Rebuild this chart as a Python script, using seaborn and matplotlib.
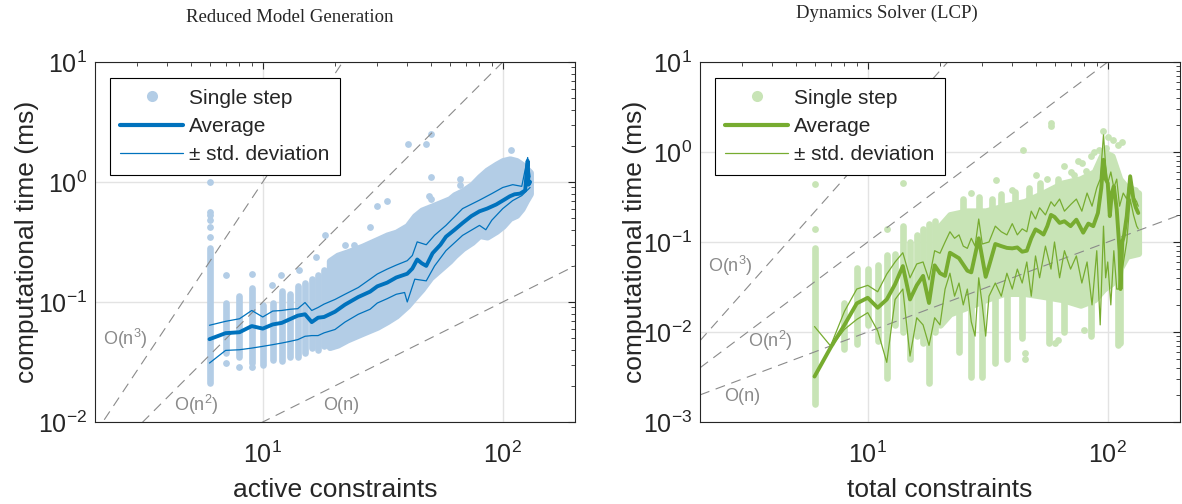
import matplotlib
matplotlib.use("Agg")
import matplotlib.pyplot as plt
from matplotlib.lines import Line2D
import seaborn as sns

# ---------------- left panel: Reduced Model Generation ----------------
l_avg_x = [6, 7, 8, 9, 10, 11, 12, 13, 14, 15, 16, 17, 18, 20, 22, 25, 28, 30, 33, 36, 40, 42, 44, 46, 48,
           51, 55, 58, 63, 68, 74, 80, 86, 94, 100, 107, 112, 118, 124, 127, 128, 130]
l_avg_y = [0.049, 0.055, 0.056, 0.063, 0.060, 0.065, 0.067, 0.072, 0.077, 0.079, 0.068, 0.074, 0.075, 0.083,
           0.095, 0.11, 0.122, 0.135, 0.145, 0.16, 0.172, 0.19, 0.226, 0.21, 0.2, 0.255, 0.3, 0.35, 0.4, 0.455,
           0.52, 0.57, 0.6, 0.65, 0.7, 0.76, 0.79, 0.8, 0.85, 1.5, 0.95, 1.0]
l_up_x = [6, 7, 8, 9, 10, 11, 12, 13, 14, 15, 16, 17, 18, 20, 22, 25, 28, 30, 33, 36, 40, 42, 44, 48, 52,
          58, 68, 80, 90, 100, 110, 120, 127, 130]
l_up_y = [0.064, 0.069, 0.0725, 0.085, 0.075, 0.084, 0.085, 0.087, 0.088, 0.099, 0.085, 0.09, 0.096, 0.105,
          0.116, 0.132, 0.155, 0.171, 0.188, 0.203, 0.221, 0.244, 0.317, 0.30, 0.36, 0.435, 0.60, 0.706, 0.8,
          0.9, 0.95, 0.92, 1.6, 1.1]
l_lo_x = [6, 7, 8, 9, 10, 11, 12, 13, 14, 15, 16, 17, 18, 20, 22, 25, 28, 30, 33, 36, 39, 40, 43, 48, 52,
          58, 68, 80, 85, 90, 100, 110, 120, 130]
l_lo_y = [0.031, 0.0395, 0.04, 0.0413, 0.0427, 0.0441, 0.0455, 0.047, 0.0486, 0.0518, 0.0525, 0.0525,
          0.0553, 0.059, 0.068, 0.079, 0.087, 0.098, 0.1066, 0.116, 0.12, 0.1, 0.155, 0.15, 0.2, 0.268, 0.359,
          0.435, 0.40, 0.48, 0.6, 0.7, 0.77, 0.9]
# single steps: stacked columns at small counts, dense band above
l_col_x = [6, 7, 8, 9, 10, 11, 12, 13, 14, 15, 16, 17, 18]
l_col_lo = [0.021, 0.0375, 0.035, 0.031, 0.030, 0.033, 0.032, 0.035, 0.035, 0.0375, 0.0413, 0.040, 0.0426]
l_col_hi = [0.28, 0.099, 0.113, 0.131, 0.095, 0.098, 0.124, 0.117, 0.135, 0.144, 0.154, 0.169, 0.186]
l_band_x = [19, 20.5, 22.5, 26, 30, 33, 36, 40, 43, 46, 50, 54, 60, 63, 68, 74.5, 80, 86, 94, 100, 107,
            114, 120, 125, 130]
l_band_lo = [0.042, 0.044, 0.0486, 0.055, 0.062, 0.069, 0.077, 0.093, 0.11, 0.128, 0.16, 0.183, 0.22,
             0.244, 0.28, 0.316, 0.36, 0.35, 0.39, 0.43, 0.5, 0.53, 0.6, 0.7, 0.8]
l_band_hi = [0.22, 0.244, 0.26, 0.29, 0.33, 0.36, 0.38, 0.43, 0.52, 0.58, 0.62, 0.66, 0.72, 0.78, 0.84,
             0.95, 1.1, 1.25, 1.4, 1.5, 1.55, 1.5, 1.4, 1.3, 1.2]
l_out_x = [6, 6, 6, 6, 6, 6, 6, 7, 9, 10.9, 11.9, 14.1, 16.6, 18.1, 22.1, 24, 28, 30, 33, 38, 40.3, 47.9,
           50.2, 50.2, 49.3, 50, 58.8, 66.2, 66.2, 108, 7, 8, 9]
l_out_y = [0.35, 0.42, 0.48, 0.53, 0.56, 1.0, 1.25, 0.168, 0.17, 0.138, 0.168, 0.185, 0.235, 0.36, 0.30,
           0.30, 0.42, 0.63, 0.69, 0.34, 2.06, 2.06, 2.49, 1.1, 0.76, 0.72, 0.65, 1.05, 0.95, 1.84, 0.031,
           0.029, 0.029]

# ---------------- right panel: Dynamics Solver (LCP) ----------------
r_avg_x = [6, 7, 8, 9, 10, 11, 12, 13, 14, 15, 16, 17, 18, 19, 20, 21, 22, 24, 26, 27, 29, 31, 32, 34, 36,
           38, 40, 42, 44, 46, 48, 50, 52, 54, 56, 58, 60, 63, 66, 70, 74, 79, 83, 87, 91, 94, 96, 98, 100,
           102, 104, 106, 109, 112, 113, 115, 117, 120, 124, 128, 131, 134]
r_avg_y = [0.0032, 0.0067, 0.012, 0.0208, 0.024, 0.0186, 0.023, 0.034, 0.054, 0.023, 0.033, 0.042, 0.021,
           0.055, 0.045, 0.042, 0.076, 0.066, 0.048, 0.046, 0.11, 0.041, 0.054, 0.095, 0.09, 0.086, 0.085,
           0.087, 0.078, 0.08, 0.11, 0.138, 0.13, 0.121, 0.15, 0.2, 0.19, 0.163, 0.17, 0.15, 0.177, 0.127,
           0.16, 0.15, 0.21, 0.4, 0.82, 0.5, 0.45, 0.194, 0.35, 0.416, 0.23, 0.08, 0.03, 0.1, 0.12, 0.194,
           0.537, 0.296, 0.24, 0.21]
r_up_x = [6, 7, 8, 9, 10, 11, 12, 13, 14, 15, 16, 17, 18, 19, 20, 21, 22, 23, 24, 25, 26, 27, 28, 29, 30,
          32, 34, 36, 38, 40, 42, 44, 46, 48, 50, 52, 55, 58, 60, 63, 66, 70, 74, 78, 82, 86, 90, 93, 96, 98,
          100, 103, 106, 109, 112, 116, 120, 124, 128, 132, 134]
r_up_y = [0.0115, 0.007, 0.017, 0.030, 0.033, 0.028, 0.044, 0.06, 0.076, 0.04, 0.057, 0.06, 0.038, 0.08,
          0.075, 0.10, 0.13, 0.11, 0.12, 0.09, 0.085, 0.11, 0.09, 0.18, 0.095, 0.10, 0.15, 0.13, 0.12, 0.16,
          0.12, 0.14, 0.13, 0.22, 0.18, 0.24, 0.2, 0.28, 0.25, 0.3, 0.22, 0.26, 0.3, 0.22, 0.35, 0.25, 0.4,
          0.5, 1.55, 0.7, 0.45, 0.6, 0.4, 0.5, 0.25, 0.35, 0.3, 0.55, 0.32, 0.28, 0.25]
r_lo_x = [7, 8, 9, 10, 11, 12, 13, 14, 15, 16, 17, 18, 19, 20, 21, 22, 23, 24, 25, 26, 27, 28, 29, 30, 31,
          32, 34, 36, 38, 40, 42, 44, 46, 48, 50, 52, 55, 58, 60, 63, 66, 70, 74, 78, 82, 86, 90, 93, 96, 98,
          100, 103, 106, 109, 112, 115, 120, 124, 128, 132, 134]
r_lo_y = [0.0067, 0.0107, 0.0138, 0.0164, 0.0103, 0.0046, 0.023, 0.03, 0.0054, 0.0144, 0.012, 0.0071,
          0.0144, 0.012, 0.03, 0.045, 0.025, 0.035, 0.02, 0.03, 0.013, 0.009, 0.04, 0.02, 0.009, 0.025,
          0.035, 0.025, 0.045, 0.03, 0.05, 0.035, 0.06, 0.025, 0.07, 0.04, 0.09, 0.05, 0.1, 0.04, 0.08,
          0.05, 0.07, 0.035, 0.06, 0.02, 0.08, 0.012, 0.15, 0.04, 0.06, 0.02, 0.08, 0.03, 0.03, 0.05, 0.1,
          0.3, 0.2, 0.15, 0.14]
r_col_x = [6, 8, 9, 10, 11, 12, 13, 14, 15, 16, 17, 18, 19, 24, 27, 30, 34, 38, 44, 57, 66, 85, 110, 112,
           25, 29, 33, 36, 41, 47, 52, 62]
r_col_lo = [0.0016, 0.0065, 0.0073, 0.012, 0.008, 0.0031, 0.012, 0.01, 0.005, 0.009, 0.0075, 0.0027, 0.01,
            0.006, 0.0032, 0.0032, 0.0045, 0.005, 0.0085, 0.0075, 0.01, 0.009, 0.0072, 0.0075,
            0.05, 0.05, 0.05, 0.05, 0.05, 0.05, 0.05, 0.05]
r_col_hi = [0.086, 0.021, 0.052, 0.05, 0.055, 0.072, 0.074, 0.15, 0.1, 0.12, 0.14, 0.16, 0.17, 0.05, 0.05,
            0.05, 0.05, 0.05, 0.05, 0.05, 0.05, 0.05, 0.05, 0.05,
            0.3, 0.32, 0.3, 0.34, 0.36, 0.4, 0.45, 0.5]
r_band_x = [20, 22, 26, 31, 37, 45, 54, 65, 77, 88, 96, 104, 112, 120, 134]
r_band_lo = [0.012, 0.016, 0.019, 0.023, 0.027, 0.027, 0.025, 0.023, 0.02, 0.023, 0.03, 0.035, 0.05, 0.07,
             0.075]
r_band_hi = [0.15, 0.2, 0.22, 0.22, 0.25, 0.28, 0.35, 0.45, 0.5, 0.6, 1.0, 0.9, 0.5, 0.4, 0.35]
r_out_x = [6, 6, 14, 12, 34.3, 44.2, 58, 58, 96, 100, 105, 110, 60, 62, 80, 45, 45, 50, 70, 75, 85, 88,
           27, 40, 56, 66, 72, 78, 81, 92, 98, 115, 125, 130]
r_out_y = [0.138, 0.445, 0.45, 0.14, 0.49, 1.06, 2.1, 1.93, 1.7, 1.45, 1.35, 1.2, 0.0075, 0.0082, 0.0105,
           0.0058, 0.005, 0.55, 0.6, 0.8, 0.9, 1.0, 0.35, 0.38, 0.5, 0.7, 0.55, 0.75, 0.62, 1.05, 1.1, 1.3,
           0.4, 0.38]

# complexity guides O(n), O(n^2), O(n^3)
guide_x = [2, 200]
guide_y = {1: [0.002, 0.2], 2: [0.004, 40], 3: [0.008, 8000]}
guide_names = {1: "O(n)", 2: "O(n$^{2}$)", 3: "O(n$^{3}$)"}
l_guide_pos = {3: (2.68, 0.049), 2: (5.3, 0.014), 1: (21.2, 0.0137)}
r_guide_pos = {3: (2.67, 0.054), 2: (3.94, 0.0079), 1: (3.0, 0.00194)}

sns.set_theme(style="white")
plt.rcParams["font.family"] = ["Liberation Sans", "DejaVu Sans"]
plt.rcParams["mathtext.fontset"] = "custom"
plt.rcParams["mathtext.rm"] = "Liberation Sans"
plt.rcParams["mathtext.it"] = "Liberation Sans:italic"
plt.rcParams["mathtext.bf"] = "Liberation Sans:bold"
plt.rcParams["axes.edgecolor"] = "#262626"
plt.rcParams["axes.linewidth"] = 0.8


def draw_panel(ax, light, dark, cols, band, outl, avg, up, lo, guide_pos, ylim, xlabel, ypad):
    ax.set_xscale("log")
    ax.set_yscale("log")
    # single steps
    ax.vlines(cols[0], cols[1], cols[2], colors=light, linewidth=4.8, capstyle="round", zorder=1)
    ax.fill_between(band[0], band[1], band[2], color=light, linewidth=4.8, joinstyle="round", zorder=1)
    sns.scatterplot(x=outl[0], y=outl[1], color=light, s=24, linewidth=0, ax=ax, zorder=1, legend=False)
    # guides
    for k in (1, 2, 3):
        ax.plot(guide_x, guide_y[k], ls=(0, (9, 6)), color="#8a8a8a", lw=0.8, zorder=2)
        gx, gy = guide_pos[k]
        ax.text(gx, gy, guide_names[k], color="#8a8a8a", fontsize=13, ha="center", va="center", zorder=2)
    # average and +/- std
    sns.lineplot(x=up[0], y=up[1], color=dark, lw=0.9, ax=ax, estimator=None, legend=False, zorder=3)
    sns.lineplot(x=lo[0], y=lo[1], color=dark, lw=0.9, ax=ax, estimator=None, legend=False, zorder=3)
    sns.lineplot(x=avg[0], y=avg[1], color=dark, lw=2.8, ax=ax, estimator=None, legend=False, zorder=4)

    ax.set_xlim(2, 200)
    ax.set_ylim(*ylim)
    ax.grid(True, which="major", color="#e3e3e3", lw=1.0)
    ax.set_axisbelow(True)
    ax.tick_params(which="both", direction="in", top=True, right=True, colors="#262626",
                   labelcolor="#262626", labelsize=18)
    ax.tick_params(which="major", length=5, width=0.8)
    ax.tick_params(axis="x", which="major", pad=14)
    ax.tick_params(axis="y", which="major", pad=6)
    ax.tick_params(which="minor", length=3, width=0.6)
    ax.set_xlabel(xlabel, fontsize=19, color="#262626", labelpad=7)
    ax.set_ylabel("computational time (ms)", fontsize=19, color="#262626", labelpad=ypad)

    handles = [Line2D([0], [0], marker="o", ls="none", color=light, markersize=8, markeredgewidth=0),
               Line2D([0], [0], color=dark, lw=3.0),
               Line2D([0], [0], color=dark, lw=0.9)]
    leg = ax.legend(handles, ["Single step", "Average", "± std. deviation"], loc="upper left",
                    bbox_to_anchor=(0.031, 0.955), borderaxespad=0, frameon=True, fancybox=False,
                    edgecolor="black", framealpha=1, fontsize=15, handlelength=3.0, handletextpad=0.3,
                    labelspacing=0.45, borderpad=0.5)
    leg.get_frame().set_linewidth(0.8)


fig = plt.figure(figsize=(11.82, 5.04), dpi=100)
ax_l = fig.add_axes([95 / 1182, 82 / 504, 480 / 1182, 360 / 504])
ax_r = fig.add_axes([700 / 1182, 82 / 504, 480 / 1182, 360 / 504])

draw_panel(ax_l, "#b3cde6", "#0072bd",
           (l_col_x, l_col_lo, l_col_hi), (l_band_x, l_band_lo, l_band_hi), (l_out_x, l_out_y),
           (l_avg_x, l_avg_y), (l_up_x, l_up_y), (l_lo_x, l_lo_y), l_guide_pos, (0.01, 10),
           "active constraints", -1)
draw_panel(ax_r, "#c8e4b6", "#77ac30",
           (r_col_x, r_col_lo, r_col_hi), (r_band_x, r_band_lo, r_band_hi), (r_out_x, r_out_y),
           (r_avg_x, r_avg_y), (r_up_x, r_up_y), (r_lo_x, r_lo_y), r_guide_pos, (0.001, 10),
           "total constraints", -3)

fig.text(290 / 1182, 1 - 17 / 504, "Reduced Model Generation", family="Liberation Serif", fontsize=13.5,
         ha="center", va="center")
fig.text(887 / 1182, 1 - 13 / 504, "Dynamics Solver (LCP)", family="Liberation Serif", fontsize=13.5,
         ha="center", va="center")

fig.savefig("out.png", dpi=100)
